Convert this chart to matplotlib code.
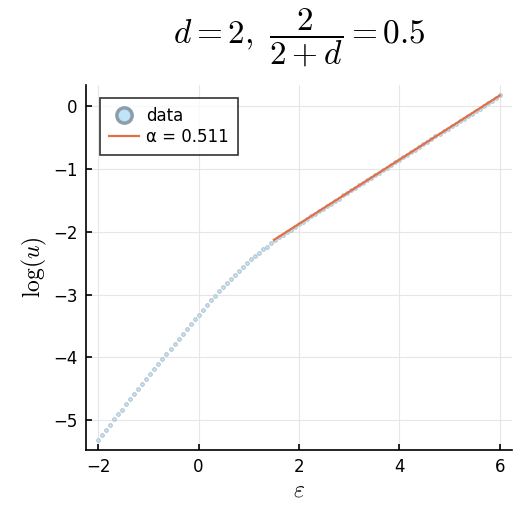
import numpy as np
import matplotlib
matplotlib.use("Agg")
import matplotlib.pyplot as plt
from matplotlib.lines import Line2D

plt.rcParams['mathtext.fontset'] = 'cm'
plt.rcParams['font.family'] = ['DejaVu Sans']

# epsilon grid and log(u) values
eps = np.linspace(-2.0, 6.0, 101)
log_u = [
    -5.31, -5.23, -5.15, -5.07, -4.98, -4.90, -4.83, -4.74, -4.66, -4.58,
    -4.50, -4.42, -4.34, -4.26, -4.18, -4.10, -4.02, -3.94, -3.86, -3.78,
    -3.70, -3.62, -3.54, -3.47, -3.39, -3.32, -3.24, -3.16, -3.09, -3.02,
    -2.95, -2.88, -2.81, -2.75, -2.68, -2.62, -2.56, -2.50, -2.44, -2.39,
    -2.34, -2.28, -2.24, -2.18, -2.13, -2.09, -2.05, -2.01, -1.97, -1.93,
    -1.88, -1.84, -1.80, -1.75, -1.71, -1.67, -1.63, -1.59, -1.55, -1.51,
    -1.47, -1.42, -1.38, -1.34, -1.30, -1.26, -1.22, -1.18, -1.14, -1.10,
    -1.06, -1.02, -0.98, -0.93, -0.89, -0.85, -0.81, -0.77, -0.73, -0.69,
    -0.65, -0.61, -0.57, -0.53, -0.48, -0.44, -0.40, -0.36, -0.32, -0.28,
    -0.24, -0.20, -0.16, -0.12, -0.08, -0.04, 0.01, 0.05, 0.09, 0.13, 0.17,
]

# fitted line, slope alpha
alpha = 0.511
fit_x = [1.5, 6.0]
fit_y = [-2.13, 0.17]

fig = plt.figure(figsize=(5.32, 5.32), dpi=100)
ax = fig.add_axes([0.162, 0.154, 0.800, 0.686])

ax.plot(eps, log_u, 'o', ms=2.6, mfc='#cfe2ee', mec='#a9c2d4', mew=0.7, zorder=2)
ax.plot(fit_x, fit_y, color='#e26f46', lw=1.6, zorder=3)

ax.set_xlim(-2.24, 6.24)
ax.set_ylim(-5.475, 0.335)
ax.set_xticks([-2, 0, 2, 4, 6])
ax.set_yticks([-5, -4, -3, -2, -1, 0])
ax.set_xticklabels(['\u22122', '0', '2', '4', '6'])
ax.set_yticklabels(['\u22125', '\u22124', '\u22123', '\u22122', '\u22121', '0'])
ax.tick_params(direction='in', length=4, width=1.2, labelsize=12, pad=6)
for s in ['top', 'right']:
    ax.spines[s].set_visible(False)
for s in ['left', 'bottom']:
    ax.spines[s].set_linewidth(1.2)
ax.grid(True, color='#e6e6e6', lw=0.8)
ax.set_axisbelow(True)

ax.set_xlabel(r'$\varepsilon$', fontsize=17, labelpad=1)
ax.set_ylabel(r'$\log(u)$', fontsize=17, labelpad=3)
fig.text(0.562, 0.928, r'$d = 2,\ \dfrac{2}{2+d} = 0.5$', fontsize=24,
         ha='center', va='center')

handles = [
    Line2D([], [], marker='o', ls='none', ms=11, mfc='#bfe3f7', mec='#8e9ea8', mew=2.5),
    Line2D([], [], color='#e26f46', lw=1.6),
]
leg = ax.legend(handles, ['data', '\u03b1 = %.3f' % alpha], loc='upper left',
                bbox_to_anchor=(0.025, 0.975), fontsize=12, frameon=True, fancybox=False,
                edgecolor='black', handlelength=1.8, handletextpad=0.4,
                borderpad=0.55, labelspacing=0.2, borderaxespad=0.2)
leg.get_frame().set_linewidth(1.2)

fig.savefig('out.png', dpi=100)
